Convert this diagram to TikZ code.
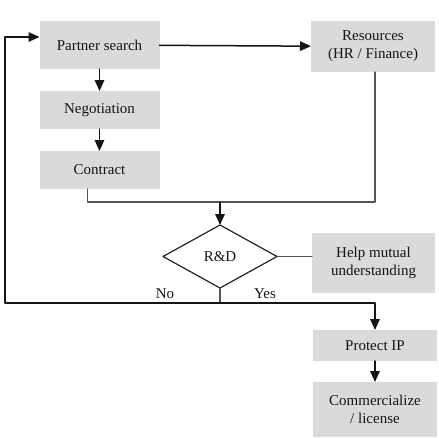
\documentclass[tikz,border=0pt]{standalone}
\usepackage{fontspec}
\setmainfont{Liberation Serif}
\usetikzlibrary{arrows.meta,positioning,shapes.geometric}
\definecolor{boxgray}{HTML}{DADADA}
\definecolor{ink}{HTML}{151515}
\definecolor{wire}{HTML}{555555}
\tikzset{
    every picture/.style={line cap=round,line join=round},
    stepbox/.style={fill=boxgray,minimum width=120pt,minimum height=38pt,
      inner sep=2pt,outer sep=0pt,text=ink,align=center,
      font=\fontsize{15}{18}\selectfont},
    decision/.style={diamond,draw=ink,line width=1.1pt,aspect=1.81,
      minimum width=114pt,minimum height=63pt,inner sep=0pt,outer sep=0pt,
      text=ink,font=\fontsize{15}{18}\selectfont},
    branchlabel/.style={text=ink,inner sep=0pt,font=\fontsize{15}{18}\selectfont},
    flowarrow/.style={-{Triangle[length=11pt,width=9.5pt]},draw=ink,line width=1.5pt},
    flowline/.style={draw=wire,line width=1.1pt}
}

\begin{document}
\begin{tikzpicture}[x=1pt,y=1pt]
  \useasboundingbox (0,0) rectangle (439,-437);
  % left column
  \node[stepbox,minimum height=48pt] (ps) at (99.5,-45) {Partner search};
  \node[stepbox,below=22pt of ps] (neg) {Negotiation};
  \node[stepbox,below=22pt of neg] (con) {Contract};
  % right column
  \node[stepbox,minimum width=124pt,minimum height=51pt] (res) at (373,-46.5)
    {Resources\\(HR / Finance)};
  \node[decision] (rd) at (220,-256.5) {R\&D};
  \node[stepbox,minimum width=123pt,minimum height=60pt] (help) at (373.5,-263)
    {Help mutual\\understanding};
  \node[stepbox,minimum width=124pt,minimum height=31pt] (ip) at (375,-345.5) {Protect IP};
  \node[stepbox,minimum width=124pt,minimum height=55pt,below=21pt of ip] (com)
    {Commercialize\\/ license};
  \node[branchlabel] (no) at (165,-294) {No};
  \node[branchlabel] (yes) at (265,-294) {Yes};
  % junctions
  \coordinate (join) at (220,-202);
  \coordinate (split) at (220,-303);
  \coordinate (back) at (5,-303);
  \draw[flowarrow] (ps) -- (res);
  \draw[flowarrow] (ps) -- (neg);
  \draw[flowarrow] (neg) -- (con);
  \draw[flowline] ([xshift=-12pt]con.south) |- (join);
  \draw[flowline] ([xshift=2pt]res.south) |- (join);
  \draw[flowarrow] (join) -- (rd.north);
  \draw[flowline] (rd.east) -- (rd.east -| help.west);
  \draw[flowline] (rd.south) -- (split);
  \draw[flowarrow] (split) -- (back) |- ([yshift=8pt]ps.west);
  \draw[flowarrow] (split) -| (ip.north);
  \draw[flowarrow] (ip) -- (com);
\end{tikzpicture}
\end{document}
